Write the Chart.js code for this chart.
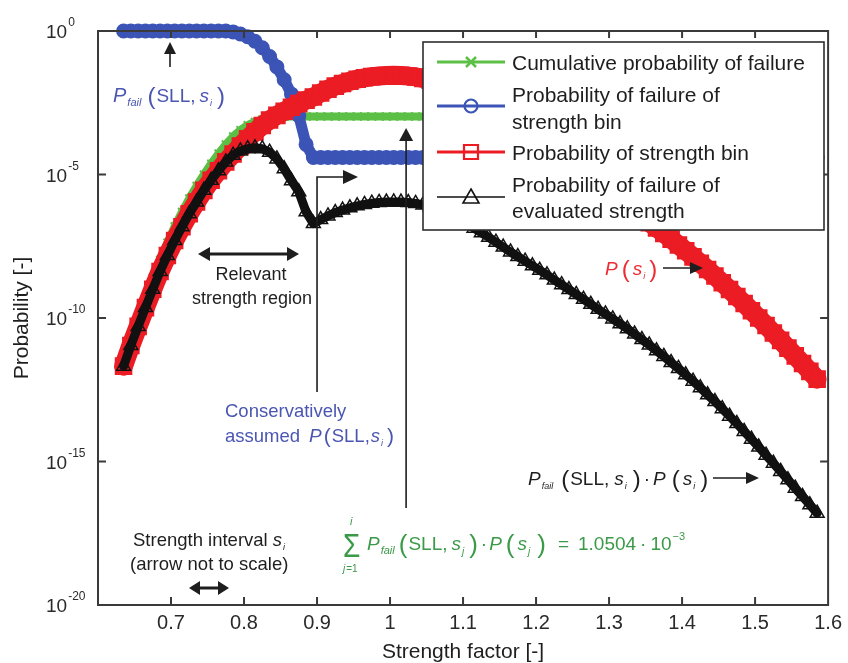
<!DOCTYPE html>
<html>
<head>
<meta charset="utf-8">
<title>Probability of failure versus strength factor</title>
<script src="https://cdn.jsdelivr.net/npm/chart.js@4.4.1/dist/chart.umd.min.js"></script>
<style>
  html, body { margin: 0; padding: 0; background: #fff; }
  canvas { display: block; }
</style>
</head>
<body>
<canvas id="graphique" width="848" height="663"></canvas>
<script>
// strength factor of each bin
const strength = [
  0.635, 0.645, 0.655, 0.665, 0.675, 0.685, 0.695, 0.705, 0.715, 0.725,
  0.735, 0.745, 0.755, 0.765, 0.775, 0.785, 0.795, 0.805, 0.815, 0.825,
  0.835, 0.845, 0.855, 0.865, 0.875, 0.885, 0.895, 0.905, 0.915, 0.925,
  0.935, 0.945, 0.955, 0.965, 0.975, 0.985, 0.995, 1.005, 1.015, 1.025,
  1.035, 1.045, 1.055, 1.065, 1.075, 1.085, 1.095, 1.105, 1.115, 1.125,
  1.135, 1.145, 1.155, 1.165, 1.175, 1.185, 1.195, 1.205, 1.215, 1.225,
  1.235, 1.245, 1.255, 1.265, 1.275, 1.285, 1.295, 1.305, 1.315, 1.325,
  1.335, 1.345, 1.355, 1.365, 1.375, 1.385, 1.395, 1.405, 1.415, 1.425,
  1.435, 1.445, 1.455, 1.465, 1.475, 1.485, 1.495, 1.505, 1.515, 1.525,
  1.535, 1.545, 1.555, 1.565, 1.575, 1.585
];

// cumulative probability of failure (green)
const cumulativeFailure = [
  2.1e-12, 2.0e-11, 1.12e-10, 5.4e-10, 2.5e-9, 1.07e-8, 4.2e-8, 1.55e-7, 5.0e-7, 1.48e-6,
  4.0e-6, 1.0e-5, 2.4e-5, 5.4e-5, 1.12e-4, 2.14e-4, 3.55e-4, 5.25e-4, 6.9e-4, 8.3e-4,
  9.3e-4, 1.0e-3, 1.035e-3, 1.048e-3, 1.0504e-3, 1.0504e-3, 1.0504e-3, 1.0504e-3, 1.0504e-3, 1.0504e-3,
  1.0504e-3, 1.0504e-3, 1.0504e-3, 1.0504e-3, 1.0504e-3, 1.0504e-3, 1.0504e-3, 1.0504e-3, 1.0504e-3, 1.0504e-3,
  1.0504e-3, 1.0504e-3, 1.0504e-3, 1.0504e-3, 1.0504e-3, 1.0504e-3, 1.0504e-3, 1.0504e-3, 1.0504e-3, 1.0504e-3,
  1.0504e-3, 1.0504e-3, 1.0504e-3, 1.0504e-3, 1.0504e-3, 1.0504e-3, 1.0504e-3, 1.0504e-3, 1.0504e-3, 1.0504e-3,
  1.0504e-3, 1.0504e-3, 1.0504e-3, 1.0504e-3, 1.0504e-3, 1.0504e-3, 1.0504e-3, 1.0504e-3, 1.0504e-3, 1.0504e-3,
  1.0504e-3, 1.0504e-3, 1.0504e-3, 1.0504e-3, 1.0504e-3, 1.0504e-3, 1.0504e-3, 1.0504e-3, 1.0504e-3, 1.0504e-3,
  1.0504e-3, 1.0504e-3, 1.0504e-3, 1.0504e-3, 1.0504e-3, 1.0504e-3, 1.0504e-3, 1.0504e-3, 1.0504e-3, 1.0504e-3,
  1.0504e-3, 1.0504e-3, 1.0504e-3, 1.0504e-3, 1.0504e-3, 1.0504e-3
];

// P_fail(SLL, s_i), probability of failure of each strength bin (blue)
const failureOfBin = [
  1, 1, 1, 1, 1, 1, 1, 1, 1, 1,
  1, 1, 1, 1, 1, 0.93, 0.79, 0.63, 0.44, 0.26,
  0.13, 0.056, 0.02, 6.3e-3, 1.12e-3, 1.12e-4, 3.9e-5, 3.9e-5, 3.9e-5, 3.9e-5,
  3.9e-5, 3.9e-5, 3.9e-5, 3.9e-5, 3.9e-5, 3.9e-5, 3.9e-5, 3.9e-5, 3.9e-5, 3.9e-5,
  3.9e-5, 3.9e-5, 3.9e-5, 3.9e-5, 3.9e-5, 3.9e-5, 3.9e-5, 3.9e-5, 3.9e-5, 3.9e-5,
  3.9e-5, 3.9e-5, 3.9e-5, 3.9e-5, 3.9e-5, 3.9e-5, 3.9e-5, 3.9e-5, 3.9e-5, 3.9e-5,
  3.9e-5, 3.9e-5, 3.9e-5, 3.9e-5, 3.9e-5, 3.9e-5, 3.9e-5, 3.9e-5, 3.9e-5, 3.9e-5,
  3.9e-5, 3.9e-5, 3.9e-5, 3.9e-5, 3.9e-5, 3.9e-5, 3.9e-5, 3.9e-5, 3.9e-5, 3.9e-5,
  3.9e-5, 3.9e-5, 3.9e-5, 3.9e-5, 3.9e-5, 3.9e-5, 3.9e-5, 3.9e-5, 3.9e-5, 3.9e-5,
  3.9e-5, 3.9e-5, 3.9e-5, 3.9e-5, 3.9e-5, 3.9e-5
];

// P(s_i), probability of each strength bin (red)
const binProbability = [
  2.1e-12, 1.1e-11, 5.1e-11, 2.3e-10, 1.0e-9, 4.2e-9, 1.5e-8, 5.0e-8, 1.5e-7, 4.3e-7,
  1.1e-6, 2.8e-6, 6.3e-6, 1.35e-5, 2.75e-5, 5.2e-5, 9.8e-5, 1.76e-4, 3.05e-4, 5.1e-4,
  7.9e-4, 1.15e-3, 1.6e-3, 2.2e-3, 2.95e-3, 3.9e-3, 5.0e-3, 6.9e-3, 9.3e-3, 1.2e-2,
  1.48e-2, 1.78e-2, 2.09e-2, 2.34e-2, 2.57e-2, 2.72e-2, 2.82e-2, 2.85e-2, 2.82e-2, 2.69e-2,
  2.51e-2, 2.24e-2, 1.91e-2, 1.55e-2, 1.2e-2, 9.1e-3, 6.8e-3, 4.9e-3, 3.5e-3, 2.4e-3,
  1.66e-3, 1.12e-3, 7.6e-4, 5.1e-4, 3.5e-4, 2.3e-4, 1.58e-4, 1.07e-4, 7.2e-5, 4.9e-5,
  3.3e-5, 2.2e-5, 1.45e-5, 9.5e-6, 6.3e-6, 4.2e-6, 2.75e-6, 1.82e-6, 1.2e-6, 7.9e-7,
  5.1e-7, 3.3e-7, 2.1e-7, 1.38e-7, 8.9e-8, 5.6e-8, 3.5e-8, 2.2e-8, 1.35e-8, 8.1e-9,
  4.9e-9, 2.9e-9, 1.7e-9, 9.8e-10, 5.6e-10, 3.2e-10, 1.78e-10, 1.0e-10, 5.5e-11, 3.0e-11,
  1.66e-11, 8.9e-12, 4.8e-12, 2.6e-12, 1.38e-12, 7.4e-13
];

// P_fail(SLL, s_i) * P(s_i), probability of failure of the evaluated strength (black)
const failureOfEvaluated = [
  2.1e-12, 1.1e-11, 5.1e-11, 2.3e-10, 1.0e-9, 4.2e-9, 1.5e-8, 5.0e-8, 1.5e-7, 4.3e-7,
  1.1e-6, 2.8e-6, 6.3e-6, 1.35e-5, 2.75e-5, 4.7e-5, 6.6e-5, 7.9e-5, 8.5e-5, 7.9e-5,
  6.0e-5, 3.5e-5, 1.58e-5, 6.0e-6, 2.5e-6, 5.0e-7, 1.95e-7, 2.7e-7, 3.6e-7, 4.7e-7,
  5.75e-7, 6.9e-7, 8.1e-7, 9.1e-7, 1.0e-6, 1.06e-6, 1.1e-6, 1.11e-6, 1.1e-6, 1.05e-6,
  9.8e-7, 8.7e-7, 7.4e-7, 6.0e-7, 4.7e-7, 3.55e-7, 2.6e-7, 1.9e-7, 1.35e-7, 9.3e-8,
  6.5e-8, 4.4e-8, 2.95e-8, 2.0e-8, 1.38e-8, 9.5e-9, 6.6e-9, 4.6e-9, 3.2e-9, 2.1e-9,
  1.45e-9, 9.8e-10, 6.6e-10, 4.5e-10, 3.0e-10, 2.0e-10, 1.38e-10, 9.3e-11, 6.3e-11, 4.2e-11,
  2.75e-11, 1.78e-11, 1.15e-11, 7.2e-12, 4.6e-12, 2.8e-12, 1.74e-12, 1.05e-12, 6.3e-13, 3.7e-13,
  2.1e-13, 1.23e-13, 6.9e-14, 3.8e-14, 2.1e-14, 1.12e-14, 6.0e-15, 3.2e-15, 1.66e-15, 8.7e-16,
  4.5e-16, 2.3e-16, 1.17e-16, 6.0e-17, 3.1e-17, 1.58e-17
];

const xTicks = [0.7, 0.8, 0.9, 1.0, 1.1, 1.2, 1.3, 1.4, 1.5, 1.6];
const yTicks = [1e-20, 1e-15, 1e-10, 1e-5, 1];

const FONT = '"Liberation Sans", Arial, Helvetica, sans-serif';
const n = (s) => `${s}px ${FONT}`;
const it = (s) => `italic ${s}px ${FONT}`;

const GREEN = '#5cbf46', BLUE = '#3b54b6', RED = '#ec1c24', BLACK = '#111111';
const GREEN_TEXT = '#3a9a48', BLUE_TEXT = '#4a56b2', RED_TEXT = '#ee2a33', INK = '#1e1e1e';

function series(values) {
  return strength.map((s, i) => ({ x: s, y: values[i] }));
}

// text made of pieces (italic, subscripts, tall brackets)
function rich(ctx, x, y, parts, color) {
  ctx.save();
  ctx.fillStyle = color;
  ctx.textAlign = 'left';
  ctx.textBaseline = 'alphabetic';
  for (const p of parts) {
    ctx.font = p.f;
    x += p.gap || 0;
    ctx.fillText(p.t, x, y + (p.dy || 0));
    x += ctx.measureText(p.t).width;
  }
  ctx.restore();
  return x;
}

function head(ctx, x, y, ang, len, half) {
  const c = Math.cos(ang), s = Math.sin(ang);
  ctx.beginPath();
  ctx.moveTo(x, y);
  ctx.lineTo(x - len * c + half * s, y - len * s - half * c);
  ctx.lineTo(x - len * c - half * s, y - len * s + half * c);
  ctx.closePath();
  ctx.fill();
}

function arrow(ctx, pts, o) {
  const len = o.len || 13, half = o.half || 6;
  const last = pts.length - 1;
  const a1 = Math.atan2(pts[last][1] - pts[last - 1][1], pts[last][0] - pts[last - 1][0]);
  const a0 = Math.atan2(pts[0][1] - pts[1][1], pts[0][0] - pts[1][0]);
  const p = pts.map(q => q.slice());
  p[last][0] -= Math.cos(a1) * len * 0.6; p[last][1] -= Math.sin(a1) * len * 0.6;
  if (o.both) { p[0][0] -= Math.cos(a0) * len * 0.6; p[0][1] -= Math.sin(a0) * len * 0.6; }
  ctx.save();
  ctx.strokeStyle = INK; ctx.fillStyle = INK; ctx.lineWidth = o.width || 1.6;
  ctx.beginPath();
  ctx.moveTo(p[0][0], p[0][1]);
  for (let i = 1; i < p.length; i++) ctx.lineTo(p[i][0], p[i][1]);
  ctx.stroke();
  head(ctx, pts[last][0], pts[last][1], a1, len, half);
  if (o.both) head(ctx, pts[0][0], pts[0][1], a0, len, half);
  ctx.restore();
}

function marker(ctx, kind, x, y, color) {
  ctx.save();
  ctx.strokeStyle = color;
  ctx.beginPath();
  if (kind === 'cross') {
    ctx.lineWidth = 2.5;
    ctx.moveTo(x - 5, y - 5); ctx.lineTo(x + 5, y + 5);
    ctx.moveTo(x + 5, y - 5); ctx.lineTo(x - 5, y + 5);
  } else if (kind === 'circle') {
    ctx.lineWidth = 2.2;
    ctx.arc(x, y, 6.5, 0, Math.PI * 2);
  } else if (kind === 'square') {
    ctx.lineWidth = 2.2;
    ctx.rect(x - 7, y - 7, 14, 14);
  } else {
    ctx.lineWidth = 1.6;
    ctx.moveTo(x, y - 8); ctx.lineTo(x + 8, y + 6); ctx.lineTo(x - 8, y + 6); ctx.closePath();
  }
  ctx.stroke();
  ctx.restore();
}

const decor = {
  id: 'decor',
  afterDraw(chart) {
    const ctx = chart.ctx, area = chart.chartArea;
    const xs = chart.scales.x, ys = chart.scales.y;

    // axes box and inward ticks
    ctx.save();
    ctx.strokeStyle = '#3a3a3a';
    ctx.lineWidth = 2;
    ctx.strokeRect(area.left, area.top, area.right - area.left, area.bottom - area.top);
    ctx.beginPath();
    xTicks.slice(0, -1).forEach(v => {
      const px = xs.getPixelForValue(v);
      ctx.moveTo(px, area.bottom); ctx.lineTo(px, area.bottom - 8);
      ctx.moveTo(px, area.top); ctx.lineTo(px, area.top + 7);
    });
    yTicks.slice(1, -1).forEach(v => {
      const py = ys.getPixelForValue(v);
      ctx.moveTo(area.left, py); ctx.lineTo(area.left + 8, py);
      ctx.moveTo(area.right, py); ctx.lineTo(area.right - 8, py);
    });
    ctx.stroke();

    // y tick labels as powers of ten
    ctx.fillStyle = '#2a2a2a';
    ctx.textAlign = 'left';
    ctx.textBaseline = 'alphabetic';
    yTicks.forEach(v => {
      const py = ys.getPixelForValue(v);
      ctx.font = n(19);
      ctx.fillText('10', 46, py + 7);
      const w = ctx.measureText('10').width;
      ctx.font = n(12);
      ctx.fillText(String(Math.round(Math.log10(v))), 46 + w + 1, py - 5);
    });

    // axis titles
    ctx.font = n(21);
    ctx.textAlign = 'center';
    ctx.textBaseline = 'middle';
    ctx.fillStyle = INK;
    ctx.fillText('Strength factor [-]', 463, 652);
    ctx.save();
    ctx.translate(22, (area.top + area.bottom) / 2);
    ctx.rotate(-Math.PI / 2);
    ctx.fillText('Probability [-]', 0, 0);
    ctx.restore();
    ctx.restore();

    // annotations
    rich(ctx, 113, 102, [
      { t: 'P', f: it(20) }, { t: 'fail', f: it(11), dy: 4, gap: 1 },
      { t: '(', f: n(24), gap: 6, dy: 2 }, { t: 'SLL,', f: n(19), gap: 1 },
      { t: 's', f: it(19), gap: 4 }, { t: 'i', f: it(9), dy: 4, gap: 1 },
      { t: ')', f: n(24), gap: 5, dy: 2 }
    ], BLUE_TEXT);
    arrow(ctx, [[170, 67], [170, 42]], { len: 12, half: 6 });

    ctx.save();
    ctx.fillStyle = INK;
    ctx.font = n(18);
    ctx.textAlign = 'center';
    ctx.fillText('Relevant', 251, 280);
    ctx.fillText('strength region', 252, 304);
    ctx.restore();
    arrow(ctx, [[198, 254], [299, 254]], { both: true, width: 3, len: 12, half: 7 });

    const x09 = xs.getPixelForValue(0.9);
    arrow(ctx, [[x09, 392], [x09, 177], [x09 + 41, 177]], { len: 15, half: 7 });
    ctx.save();
    ctx.fillStyle = BLUE_TEXT;
    ctx.font = n(18.5);
    ctx.fillText('Conservatively', 225, 417);
    ctx.restore();
    rich(ctx, 225, 442, [
      { t: 'assumed', f: n(18.5) }, { t: 'P', f: it(19), gap: 9 },
      { t: '(', f: n(21), gap: 2, dy: 1 }, { t: 'SLL,', f: n(18.5), gap: 1 },
      { t: 's', f: it(18.5), gap: 1 }, { t: 'i', f: it(9), dy: 4, gap: 1 },
      { t: ')', f: n(21), gap: 4, dy: 1 }
    ], BLUE_TEXT);

    const x102 = xs.getPixelForValue(1.022);
    arrow(ctx, [[x102, 508], [x102, 128]], { len: 13, half: 7 });

    ctx.save();
    ctx.fillStyle = INK;
    ctx.font = n(18.5);
    ctx.fillText('(arrow not to scale)', 130, 570);
    ctx.restore();
    rich(ctx, 133, 546, [
      { t: 'Strength interval ', f: n(18.5) }, { t: 's', f: it(18.5) },
      { t: 'i', f: it(9), dy: 4, gap: 1 }
    ], INK);
    arrow(ctx, [[189, 588], [229, 588]], { both: true, width: 3, len: 11, half: 7 });

    // summation written in green under the plateau
    ctx.save();
    ctx.fillStyle = GREEN_TEXT;
    ctx.font = n(28);
    ctx.translate(343, 557);
    ctx.scale(1, 1.2);
    ctx.fillText('\u03A3', 0, 0);
    ctx.restore();
    rich(ctx, 350, 525, [{ t: 'i', f: it(11) }], GREEN_TEXT);
    rich(ctx, 343, 572, [{ t: 'j', f: it(10) }, { t: '=1', f: n(10), gap: 1 }], GREEN_TEXT);
    rich(ctx, 367, 550, [
      { t: 'P', f: it(19) }, { t: 'fail', f: it(11), dy: 4, gap: 1 },
      { t: '(', f: n(26), gap: 4, dy: 3 }, { t: 'SLL,', f: n(19), gap: 1 },
      { t: 's', f: it(19), gap: 4 }, { t: 'j', f: it(10), dy: 5, gap: 1 },
      { t: ')', f: n(26), gap: 5, dy: 3 }, { t: '\u00B7', f: n(19), gap: 3 },
      { t: 'P', f: it(19), gap: 2 }, { t: '(', f: n(26), gap: 4, dy: 3 },
      { t: 's', f: it(19), gap: 3 }, { t: 'j', f: it(10), dy: 5, gap: 1 },
      { t: ')', f: n(26), gap: 7, dy: 3 }, { t: '=', f: n(19), gap: 12 },
      { t: '1.0504', f: n(19), gap: 9 }, { t: '\u00B7', f: n(19), gap: 4 },
      { t: '10', f: n(19), gap: 4 }, { t: '\u2212' + '3', f: n(11), dy: -10, gap: 1 }
    ], GREEN_TEXT);

    rich(ctx, 528, 485, [
      { t: 'P', f: it(19) }, { t: 'fail', f: it(9), dy: 4, gap: 1 },
      { t: '(', f: n(24), gap: 8, dy: 2 }, { t: 'SLL,', f: n(19), gap: 1 },
      { t: 's', f: it(19), gap: 5 }, { t: 'i', f: it(9), dy: 4, gap: 1 },
      { t: ')', f: n(24), gap: 6, dy: 2 }, { t: '\u00B7', f: n(19), gap: 3 },
      { t: 'P', f: it(19), gap: 3 }, { t: '(', f: n(24), gap: 6, dy: 2 },
      { t: 's', f: it(19), gap: 3 }, { t: 'i', f: it(9), dy: 4, gap: 1 },
      { t: ')', f: n(24), gap: 5, dy: 2 }
    ], INK);
    arrow(ctx, [[713, 478], [759, 478]], { len: 13, half: 6 });

    rich(ctx, 605, 275, [
      { t: 'P', f: it(19) }, { t: '(', f: n(24), gap: 4, dy: 2 },
      { t: 's', f: it(19), gap: 3 }, { t: 'i', f: it(9), dy: 4, gap: 1 },
      { t: ')', f: n(24), gap: 4, dy: 2 }
    ], RED_TEXT);
    arrow(ctx, [[663, 268], [703, 268]], { len: 13, half: 6 });

    // legend box
    const L = { x: 423, y: 42, w: 401, h: 188 };
    ctx.save();
    ctx.fillStyle = '#fff';
    ctx.fillRect(L.x, L.y, L.w, L.h);
    ctx.strokeStyle = '#2e2e2e';
    ctx.lineWidth = 1.6;
    ctx.strokeRect(L.x, L.y, L.w, L.h);
    const rows = [
      { color: GREEN, kind: 'cross', y: 62, lw: 3 },
      { color: BLUE, kind: 'circle', y: 106, lw: 3 },
      { color: RED, kind: 'square', y: 152, lw: 3 },
      { color: BLACK, kind: 'triangle', y: 197, lw: 1.6 }
    ];
    rows.forEach(r => {
      ctx.strokeStyle = r.color;
      ctx.lineWidth = r.lw;
      ctx.beginPath();
      ctx.moveTo(437, r.y); ctx.lineTo(505, r.y);
      ctx.stroke();
      marker(ctx, r.kind, 471, r.y, r.color);
    });
    ctx.fillStyle = INK;
    ctx.font = n(21);
    ctx.textAlign = 'left';
    ctx.textBaseline = 'alphabetic';
    ctx.fillText('Cumulative probability of failure', 512, 70);
    ctx.fillText('Probability of failure of', 512, 102);
    ctx.fillText('strength bin', 512, 129);
    ctx.fillText('Probability of strength bin', 512, 160);
    ctx.fillText('Probability of failure of', 512, 192);
    ctx.fillText('evaluated strength', 512, 218);
    ctx.restore();
  }
};

Chart.defaults.font.family = FONT;

const common = {
  showLine: true, tension: 0, clip: false,
  borderJoinStyle: 'round', borderCapStyle: 'round'
};

new Chart(document.getElementById('graphique'), {
  type: 'line',
  data: {
    datasets: [
      Object.assign({}, common, {
        label: 'Probability of failure of evaluated strength', data: series(failureOfEvaluated), order: 0,
        borderColor: BLACK, borderWidth: 9, pointStyle: 'triangle', pointRadius: 8,
        pointHoverRadius: 8, pointBorderWidth: 1.5, pointBorderColor: BLACK,
        pointBackgroundColor: 'rgba(255,255,255,0)'
      }),
      Object.assign({}, common, {
        label: 'Probability of strength bin', data: series(binProbability), order: 1,
        borderColor: RED, borderWidth: 19, pointStyle: 'rect', pointRadius: 11,
        pointHoverRadius: 11, pointBorderWidth: 2, pointBorderColor: RED,
        pointBackgroundColor: RED
      }),
      Object.assign({}, common, {
        label: 'Probability of failure of strength bin', data: series(failureOfBin), order: 2,
        borderColor: BLUE, borderWidth: 11, pointStyle: 'circle', pointRadius: 6.5,
        pointHoverRadius: 6.5, pointBorderWidth: 2, pointBorderColor: BLUE,
        pointBackgroundColor: BLUE
      }),
      Object.assign({}, common, {
        label: 'Cumulative probability of failure', data: series(cumulativeFailure), order: 3,
        borderColor: GREEN, borderWidth: 8, pointStyle: 'crossRot', pointRadius: 5.5,
        pointHoverRadius: 5.5, pointBorderWidth: 2, pointBorderColor: GREEN,
        pointBackgroundColor: GREEN
      })
    ]
  },
  options: {
    responsive: false,
    animation: false,
    devicePixelRatio: 1,
    layout: { padding: { left: 0, right: 16, top: 31, bottom: 0 } },
    plugins: { legend: { display: false }, tooltip: { enabled: false } },
    scales: {
      x: {
        type: 'linear', min: 0.6, max: 1.6,
        grid: { display: false, drawTicks: false },
        border: { display: false },
        afterBuildTicks: (s) => { s.ticks = xTicks.map(v => ({ value: v })); },
        afterFit: (s) => { s.height = 58; },
        ticks: {
          autoSkip: false, maxRotation: 0, minRotation: 0, padding: 6,
          color: '#2a2a2a', font: { size: 20, family: FONT },
          callback: (v) => String(Math.round(v * 10) / 10)
        }
      },
      y: {
        type: 'logarithmic', min: 1e-20, max: 1,
        grid: { display: false, drawTicks: false },
        border: { display: false },
        afterBuildTicks: (s) => { s.ticks = yTicks.map(v => ({ value: v })); },
        afterFit: (s) => { s.width = 98; },
        ticks: { display: false }
      }
    }
  },
  plugins: [decor]
});
</script>
</body>
</html>
